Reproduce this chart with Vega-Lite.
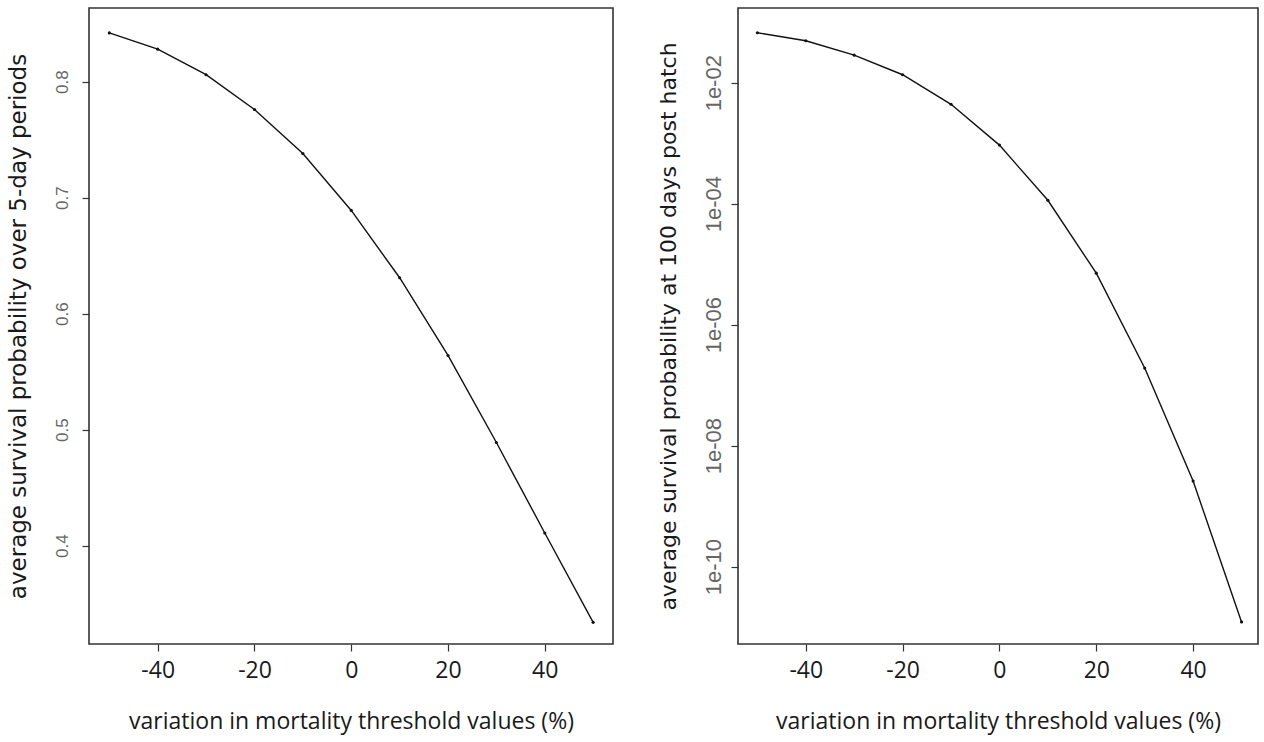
{
  "$schema": "https://vega.github.io/schema/vega-lite/v6.json",
  "background": "#ffffff",
  "padding": {"left": 6, "top": 7, "right": 8, "bottom": 4},
  "spacing": 125,
  "bounds": "flush",
  "config": {
    "view": {"stroke": "#333333", "strokeWidth": 1.6},
    "axis": {
      "domain": false,
      "grid": false,
      "ticks": true,
      "tickColor": "#333333",
      "tickSize": 7,
      "tickWidth": 1.2
    },
    "axisX": {
      "labelFont": "Open Sans",
      "labelFontSize": 23,
      "labelColor": "#1a1a1a",
      "labelPadding": 8,
      "labelExpr": "'' + datum.value",
      "titleFont": "Open Sans",
      "titleFontSize": 23,
      "titleFontWeight": "normal",
      "titleColor": "#1a1a1a",
      "titlePadding": 28
    },
    "axisY": {
      "labelFont": "Liberation Sans",
      "labelAngle": -90,
      "labelColor": "#666666",
      "titleFont": "DejaVu Sans",
      "titleFontSize": 23,
      "titleFontWeight": "normal",
      "titleColor": "#1a1a1a"
    }
  },
  "hconcat": [
    {
      "width": 524,
      "height": 636,
      "data": {
        "values": [
          {"v": -50, "p": 0.842},
          {"v": -40, "p": 0.828},
          {"v": -30, "p": 0.806},
          {"v": -20, "p": 0.776},
          {"v": -10, "p": 0.738},
          {"v": 0, "p": 0.689},
          {"v": 10, "p": 0.631},
          {"v": 20, "p": 0.564},
          {"v": 30, "p": 0.489},
          {"v": 40, "p": 0.411},
          {"v": 50, "p": 0.334}
        ]
      },
      "encoding": {
        "x": {
          "field": "v",
          "type": "quantitative",
          "scale": {"domain": [-54.2, 54.1], "nice": false, "zero": false},
          "axis": {"values": [-40, -20, 0, 20, 40], "title": "variation in mortality threshold values (%)"}
        },
        "y": {
          "field": "p",
          "type": "quantitative",
          "scale": {"domain": [0.3153, 0.8635], "nice": false, "zero": false},
          "axis": {
            "values": [0.4, 0.5, 0.6, 0.7, 0.8],
            "format": ".1f",
            "labelFontSize": 17,
            "labelPadding": 11,
            "titlePadding": 23,
            "title": "average survival probability  over 5-day periods"
          }
        }
      },
      "layer": [
        {"mark": {"type": "line", "color": "#111111", "strokeWidth": 1.4}},
        {"mark": {"type": "point", "filled": true, "color": "#111111", "size": 10, "opacity": 1}}
      ]
    },
    {
      "width": 520,
      "height": 636,
      "data": {
        "values": [
          {"v": -50, "p": 0.067},
          {"v": -40, "p": 0.0494},
          {"v": -30, "p": 0.0285},
          {"v": -20, "p": 0.01355},
          {"v": -10, "p": 0.0044},
          {"v": 0, "p": 0.00093},
          {"v": 10, "p": 0.000114},
          {"v": 20, "p": 7.1e-6},
          {"v": 30, "p": 1.92e-7},
          {"v": 40, "p": 2.6e-9},
          {"v": 50, "p": 1.22e-11}
        ]
      },
      "encoding": {
        "x": {
          "field": "v",
          "type": "quantitative",
          "scale": {"domain": [-54, 53.4], "nice": false, "zero": false},
          "axis": {"values": [-40, -20, 0, 20, 40], "title": "variation in mortality threshold values (%)"}
        },
        "y": {
          "field": "p",
          "type": "quantitative",
          "scale": {"type": "log", "domain": [5.27e-12, 0.1718], "nice": false},
          "axis": {
            "values": [1e-10, 1e-8, 1e-6, 1e-4, 1e-2],
            "labelExpr": "replace(format(datum.value, '.0e'), regexp('e-(\\\\d)$'), 'e-0$1')",
            "labelFontSize": 22,
            "labelPadding": 6,
            "titlePadding": 22,
            "titleFontSize": 22,
            "title": "average survival probability  at 100 days post hatch"
          }
        }
      },
      "layer": [
        {"mark": {"type": "line", "color": "#111111", "strokeWidth": 1.4}},
        {"mark": {"type": "point", "filled": true, "color": "#111111", "size": 10, "opacity": 1}}
      ]
    }
  ]
}
